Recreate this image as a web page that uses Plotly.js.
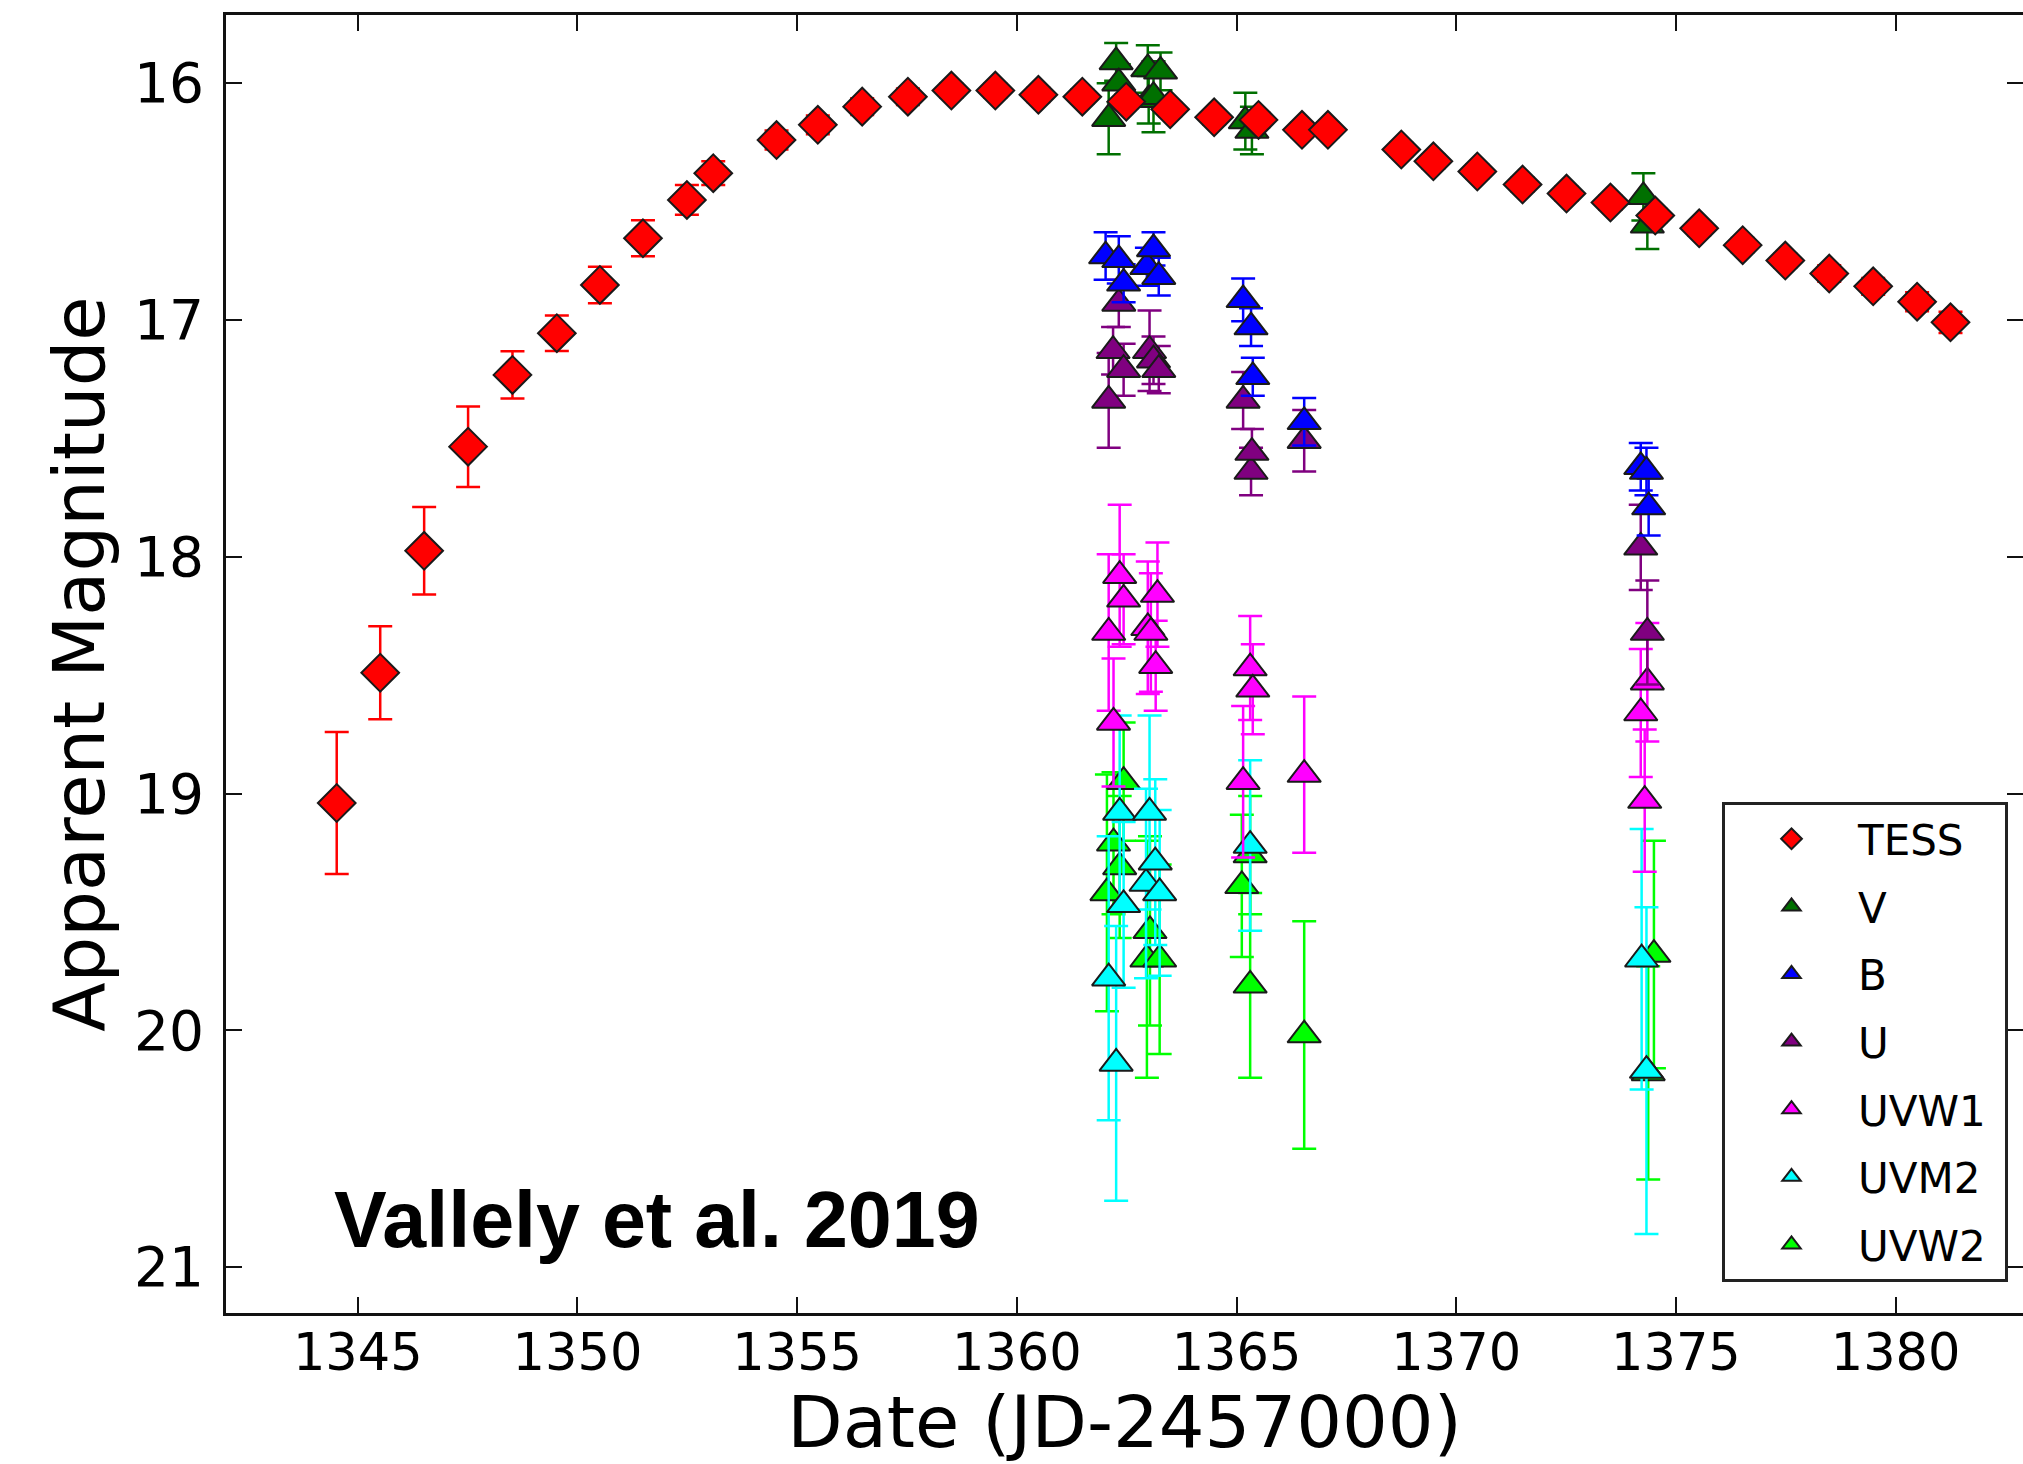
<!DOCTYPE html>
<html>
<head>
<meta charset="utf-8">
<script src="https://cdn.plot.ly/plotly-3.0.1.min.js"></script>
<style>html,body{margin:0;padding:0;background:#fff;}#chart{width:2023px;height:1464px;}</style>
</head>
<body>
<div id="chart"></div>
<script>
// ---- data ----
const tessX = [1344.52,1345.51,1346.51,1347.51,1348.52,1349.53,1350.51,1351.49,1352.49,1353.09,1354.53,1355.47,1356.48,1357.52,1358.51,1359.51,1360.49,1361.49,1362.49,1363.49,1364.49,1365.50,1366.49,1367.08,1368.75,1369.48,1370.48,1371.51,1372.51,1373.51,1374.53,1375.53,1376.52,1377.49,1378.49,1379.49,1380.49,1381.25];
const tessY = [19.04,18.49,17.975,17.535,17.232,17.056,16.852,16.655,16.493,16.38,16.24,16.176,16.099,16.057,16.031,16.031,16.049,16.057,16.078,16.11,16.144,16.155,16.197,16.197,16.28,16.33,16.373,16.428,16.466,16.504,16.559,16.613,16.684,16.749,16.804,16.858,16.923,17.01];
const tessErr = [0.30,0.196,0.185,0.17,0.10,0.075,0.077,0.076,0.063,0.05,0.04,0.04,0.035,0.035,0.03,0.03,0.03,0.03,0.03,0.03,0.03,0.03,0.03,0.03,0.03,0.03,0.03,0.03,0.03,0.03,0.03,0.03,0.03,0.03,0.035,0.035,0.04,0.045];

const vX = [1362.09,1362.26,1362.32,1362.98,1363.00,1363.11,1363.27,1365.20,1365.35,1374.26,1374.35];
const vY = [16.15,15.91,16.00,15.94,16.07,16.057,15.95,16.16,16.20,16.48,16.60];
const vErr = [0.15,0.08,0.08,0.10,0.10,0.15,0.08,0.12,0.10,0.10,0.10];

const bX = [1362.02,1362.32,1362.43,1362.96,1363.11,1363.23,1365.15,1365.33,1365.37,1366.54,1374.20,1374.33,1374.38];
const bY = [16.73,16.746,16.845,16.775,16.70,16.817,16.915,17.03,17.24,17.43,17.62,17.64,17.79];
const bErr = [0.10,0.10,0.08,0.08,0.07,0.08,0.09,0.08,0.08,0.10,0.10,0.10,0.12];

const uX = [1362.09,1362.19,1362.32,1362.43,1363.02,1363.11,1363.23,1365.15,1365.33,1365.35,1366.54,1374.20,1374.35];
const uY = [17.34,17.13,16.93,17.21,17.13,17.17,17.21,17.34,17.64,17.56,17.51,17.96,18.32];
const uErr = [0.20,0.10,0.10,0.11,0.17,0.10,0.10,0.12,0.10,0.10,0.13,0.18,0.22];

const w1X = [1362.09,1362.20,1362.34,1362.43,1362.98,1363.05,1363.16,1363.20,1365.15,1365.31,1365.37,1366.54,1374.20,1374.29,1374.35];
const w1Y = [18.32,18.70,18.08,18.18,18.30,18.32,18.46,18.16,18.95,18.47,18.56,18.92,18.66,19.03,18.53];
const w1Err = [0.33,0.27,0.30,0.19,0.28,0.25,0.19,0.22,0.32,0.22,0.19,0.33,0.27,0.30,0.25];

const m2X = [1362.09,1362.26,1362.34,1362.43,1362.94,1363.02,1363.15,1363.25,1365.31,1374.22,1374.33];
const m2Y = [19.78,20.14,19.08,19.47,19.38,19.08,19.29,19.42,19.22,19.70,20.17];
const m2Err = [0.60,0.58,0.41,0.35,0.40,0.41,0.35,0.35,0.36,0.55,0.69];

const w2X = [1362.05,1362.20,1362.34,1362.43,1362.96,1363.03,1363.25,1365.12,1365.31,1365.31,1366.54,1374.37,1374.50];
const w2Y = [19.42,19.21,19.31,18.95,19.70,19.58,19.70,19.39,19.26,19.81,20.02,20.18,19.68];
const w2Err = [0.50,0.30,0.30,0.25,0.50,0.40,0.40,0.30,0.25,0.39,0.48,0.45,0.48];

const xTicks = [1345,1350,1355,1360,1365,1370,1375,1380];
const yTicks = [16,17,18,19,20,21];

// ---- build ----
function series(name, x, y, err, color, symbol, size, rank) {
  return {
    type: 'scatter', mode: 'markers', name: name, x: x, y: y,
    legendgroup: name, legendrank: rank,
    marker: {symbol: symbol, size: size, color: color, line: {color: '#1a1a1a', width: 2}},
    error_y: {type: 'data', array: err, visible: true, color: color, thickness: 2.5, width: 12}
  };
}
const traces = [
  series('UVW2', w2X, w2Y, w2Err, '#00ff00', 'triangle-up', 29, 7),
  series('UVM2', m2X, m2Y, m2Err, '#00ffff', 'triangle-up', 29, 6),
  series('UVW1\u00a0', w1X, w1Y, w1Err, '#ff00ff', 'triangle-up', 29, 5),
  series('U', uX, uY, uErr, '#800080', 'triangle-up', 29, 4),
  series('B', bX, bY, bErr, '#0000ff', 'triangle-up', 29, 3),
  series('V', vX, vY, vErr, '#007000', 'triangle-up', 29, 2),
  series('TESS', tessX, tessY, tessErr, '#ff0000', 'diamond', 29, 1)
];

const axisCommon = {
  showline: true, linecolor: '#111', linewidth: 3, mirror: 'ticks',
  ticks: 'inside', ticklen: 16, tickwidth: 2, tickcolor: '#111',
  showgrid: false, zeroline: false,
  tickfont: {family: 'DejaVu Sans', size: 51, color: '#000'}
};

const layout = {
  width: 2023, height: 1464,
  margin: {l: 226, r: 0, t: 15, b: 151, pad: 0},
  paper_bgcolor: '#fff', plot_bgcolor: '#fff',
  showlegend: true,
  xaxis: Object.assign({}, axisCommon, {
    range: [1342.0, 1382.9], tickmode: 'array', tickvals: xTicks, ticktext: xTicks.map(String),
    ticklabelstandoff: -7,
    title: {text: 'Date (JD-2457000)', font: {family: 'DejaVu Sans', size: 72, color: '#000'}, standoff: 30}
  }),
  yaxis: Object.assign({}, axisCommon, {
    range: [21.194, 15.712], tickmode: 'array', tickvals: yTicks, ticktext: yTicks.map(String),
    tickfont: {family: 'DejaVu Sans', size: 55, color: '#000'},
    ticklabelstandoff: 8,
    title: {text: 'Apparent Magnitude', font: {family: 'DejaVu Sans', size: 72, color: '#000'}, standoff: 6}
  }),
  legend: {
    x: 0.8325, y: 0.3937, xanchor: 'left', yanchor: 'top',
    bgcolor: '#fff', bordercolor: '#222', borderwidth: 3,
    font: {family: 'DejaVu Sans', size: 42, color: '#000'},
    traceorder: 'grouped', tracegroupgap: 10, itemwidth: 123
  },
  annotations: [{
    text: '<b>Vallely et al. 2019</b>', xref: 'paper', yref: 'paper',
    x: 0.059, y: 0.0724, xanchor: 'left', yanchor: 'middle', showarrow: false,
    font: {family: 'Liberation Sans, Arial, sans-serif', size: 79, color: '#000'}
  }],
  hovermode: false
};

Plotly.newPlot('chart', traces, layout, {staticPlot: true, displayModeBar: false});
</script>
</body>
</html>
